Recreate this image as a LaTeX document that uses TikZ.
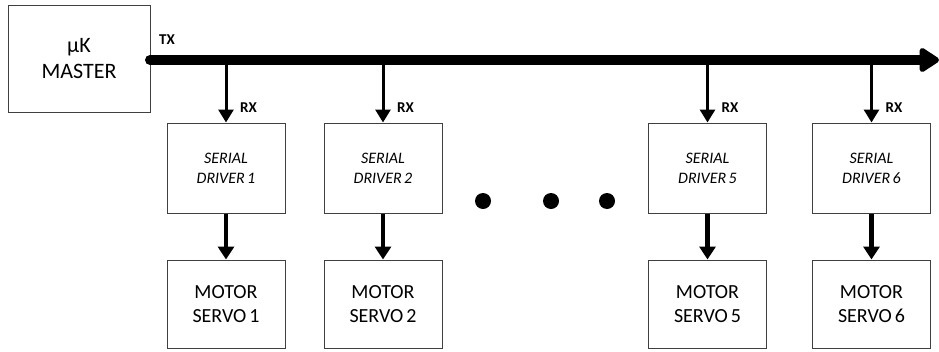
\documentclass[tikz,border=0pt]{standalone}
\usepackage{fontspec}
\setmainfont{Carlito}
\usetikzlibrary{arrows.meta}
\begin{document}
\begin{tikzpicture}[x=1pt,y=-1pt,
  box/.style={draw=black!75,line width=1pt,fill=white,inner sep=0pt,align=center},
  master/.style={box,minimum width=142pt,minimum height=107pt,font=\fontsize{22}{26}\selectfont},
  driver/.style={box,minimum width=118pt,minimum height=90pt,font=\fontsize{16}{20}\selectfont\itshape},
  motor/.style={box,minimum width=118pt,minimum height=88pt,font=\fontsize{20}{24}\selectfont},
  rxarrow/.style={line width=3pt,-{Triangle[width=15pt,length=13pt]}},
  dnarrow/.style={line width=4.5pt,-{Triangle[width=16pt,length=13pt]}},
  lbl/.style={font=\fontsize{15}{17}\selectfont\bfseries,inner sep=0pt,anchor=west},
  dot/.style={circle,fill=black,minimum size=16pt,inner sep=0pt}]
\useasboundingbox (0,0) rectangle (939,351);
\node[master] (m) at (79,59) {µK\\MASTER};
\coordinate (bs) at (150,60);
\coordinate (be) at (939,60);
\draw[line width=10pt,line cap=round,-{Triangle[width=27pt,length=22pt,round=false]}] (bs) -- (be);
\node[lbl] (tx) at (159,40) {TX};
\foreach \i/\x in {1/226,2/383,5/707.5,6/871.5}{
  \node[driver] (d\i) at (\x,168) {SERIAL\\DRIVER\hspace{0.15em}\i};
  \node[motor] (s\i) at (\x,304) {MOTOR\\SERVO\hspace{0.15em}\i};
  \coordinate (t\i) at (\x,64);
  \draw[rxarrow] (t\i) -- (d\i.north);
  \draw[dnarrow] (d\i.south) -- (s\i.north);
  \node[lbl] (rx\i) at (\x+14,108) {RX};
}
\node[dot] (p1) at (483,201) {};
\node[dot] (p2) at (551,201) {};
\node[dot] (p3) at (607,201) {};
\end{tikzpicture}
\end{document}
